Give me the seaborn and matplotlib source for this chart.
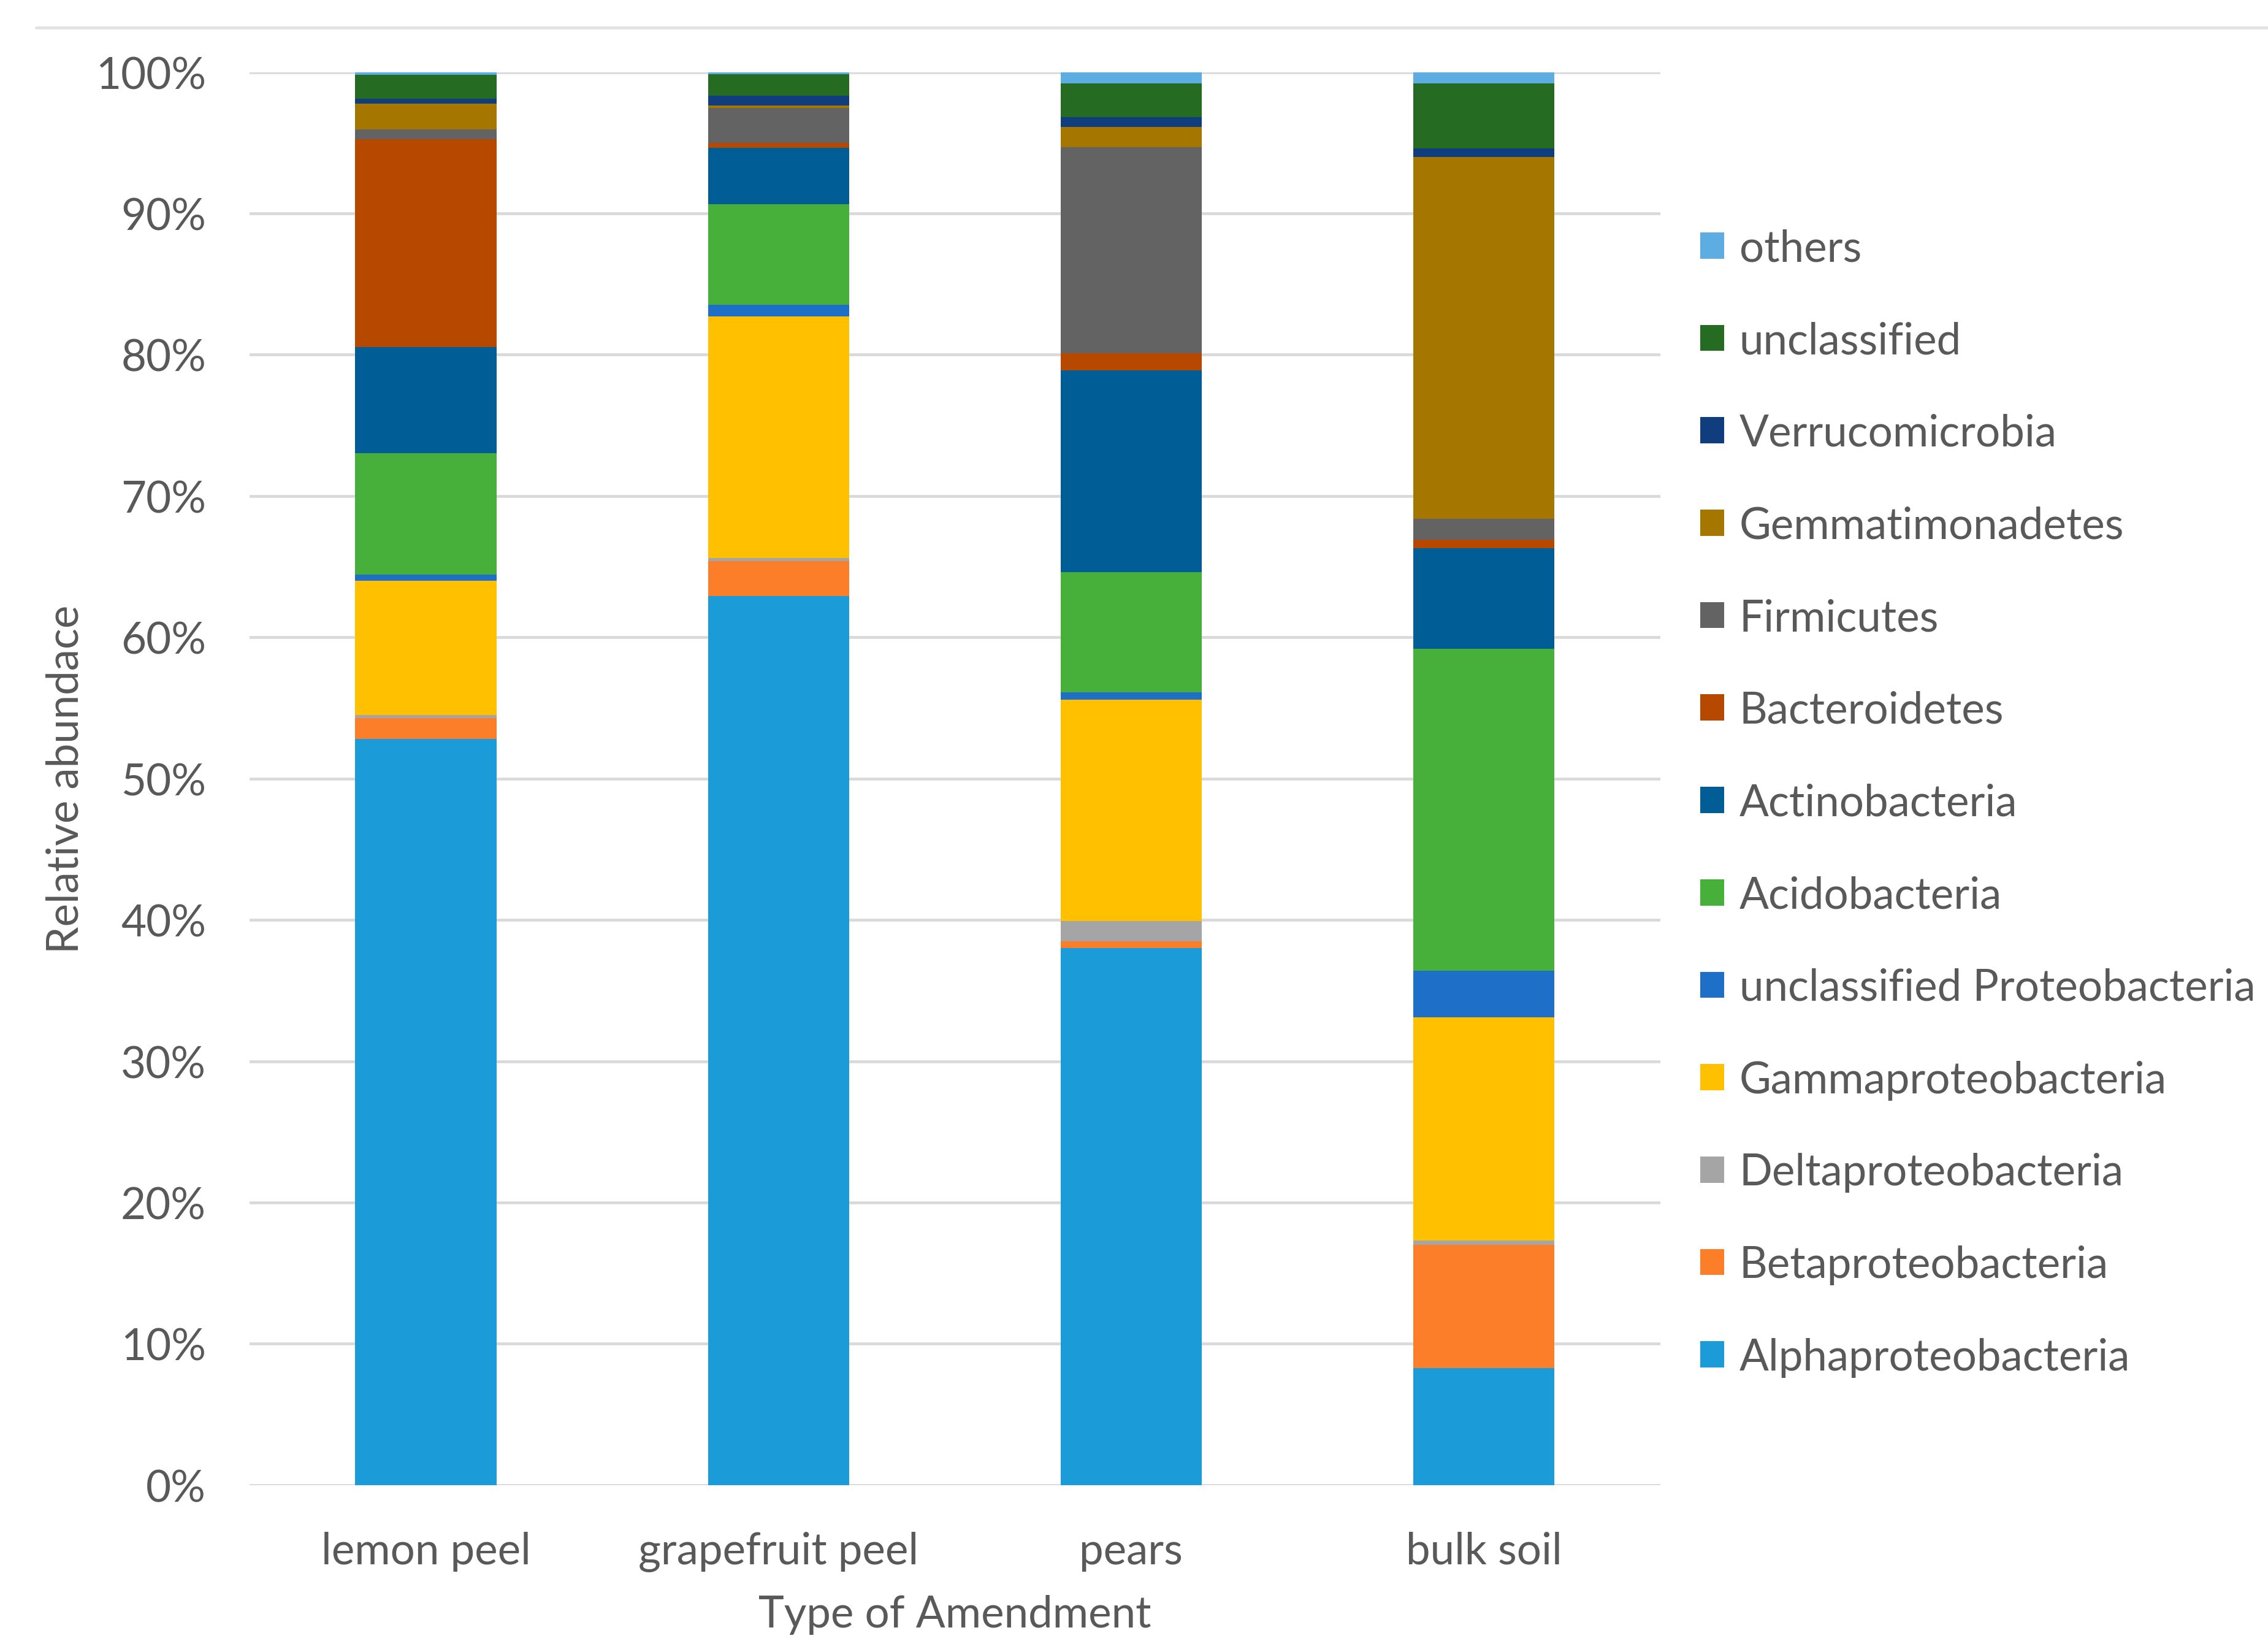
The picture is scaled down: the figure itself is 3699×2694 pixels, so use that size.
import matplotlib
matplotlib.use("Agg")
import matplotlib.pyplot as plt
from matplotlib.patches import Patch
from matplotlib.lines import Line2D
from matplotlib.ticker import FuncFormatter
import seaborn as sns
import pandas as pd
import numpy as np

samples = ["lemon peel", "grapefruit peel", "pears", "bulk soil"]

# stacking order: bottom -> top
taxa = ["Alphaproteobacteria", "Betaproteobacteria", "Deltaproteobacteria",
        "Gammaproteobacteria", "unclassified Proteobacteria", "Acidobacteria",
        "Actinobacteria", "Bacteroidetes", "Firmicutes", "Gemmatimonadetes",
        "Verrucomicrobia", "unclassified", "others"]

alpha = [52.8, 62.9, 38.0, 8.3]
beta = [1.5, 2.5, 0.5, 8.7]
delta = [0.2, 0.2, 1.4, 0.3]
gamma = [9.5, 17.1, 15.7, 15.8]
uncl_proteo = [0.45, 0.85, 0.5, 3.3]
acido = [8.6, 7.1, 8.5, 22.8]
actino = [7.5, 4.0, 14.3, 7.1]
bacteroid = [14.7, 0.33, 1.2, 0.6]
firmic = [0.7, 2.5, 14.6, 1.5]
gemma = [1.8, 0.15, 1.4, 25.6]
verruco = [0.35, 0.7, 0.7, 0.6]
unclassified = [1.7, 1.5, 2.4, 4.6]
others = [0.2, 0.2, 0.8, 0.8]

colors = ["#1B9CD8", "#FD7E28", "#A5A5A5", "#FFC000", "#1E6FC8", "#47B03B",
          "#015D96", "#B74800", "#636363", "#A67700", "#103D7E", "#266B22",
          "#5DADE2"]

values = [alpha, beta, delta, gamma, uncl_proteo, acido, actino, bacteroid,
          firmic, gemma, verruco, unclassified, others]

rows = []
for t, vals in zip(taxa, values):
    for s, v in zip(samples, vals):
        rows.append({"sample": s, "taxon": t, "value": v})
df = pd.DataFrame(rows)
df["cum"] = df.groupby("sample")["value"].cumsum()

sns.set_theme(style="white")
plt.rcParams["font.family"] = ["Lato", "DejaVu Sans"]
text_color = "#595959"

fig = plt.figure(figsize=(3699 / 300, 2695 / 300), dpi=300)
ax = fig.add_axes([0.110, 0.101, 0.622, 0.855])

# draw cumulative layers from top to bottom so each lower layer overlays
for t, c in reversed(list(zip(taxa, colors))):
    sub = df[df["taxon"] == t]
    sns.barplot(data=sub, x="sample", y="cum", order=samples, color=c,
                width=0.40, saturation=1, ax=ax, linewidth=0, zorder=3)

ax.set_xlim(-0.5, 3.5)
ax.set_ylim(0, 100)
ax.set_yticks(np.arange(0, 101, 10))
ax.yaxis.set_major_formatter(FuncFormatter(lambda v, p: f"{v:.0f}%"))
ax.grid(axis="y", color="#D9D9D9", linewidth=1.1, zorder=0)
ax.grid(axis="x", visible=False)
for sp in ax.spines.values():
    sp.set_visible(False)
ax.tick_params(axis="both", length=0, labelsize=17, colors=text_color)
ax.tick_params(axis="y", pad=17)
ax.tick_params(axis="x", pad=18)
ax.set_xlabel("Type of Amendment", fontsize=17, color=text_color, labelpad=9)
ax.set_ylabel("Relative abundace", fontsize=17, color=text_color, labelpad=4)

handles = [Patch(facecolor=c, edgecolor="none", label=t)
           for t, c in reversed(list(zip(taxa, colors)))]
leg = fig.legend(handles=handles, loc="upper left",
                 bbox_to_anchor=(0.742, 0.872), frameon=False,
                 fontsize=17, labelcolor=text_color, handlelength=0.55,
                 handleheight=0.55, handletextpad=0.35, labelspacing=1.21,
                 borderaxespad=0)

fig.add_artist(Line2D([0.016, 1.0], [0.983, 0.983], transform=fig.transFigure,
                      color="#E3E3E3", linewidth=1.2))

fig.savefig("out.png", dpi=300, facecolor="white")
